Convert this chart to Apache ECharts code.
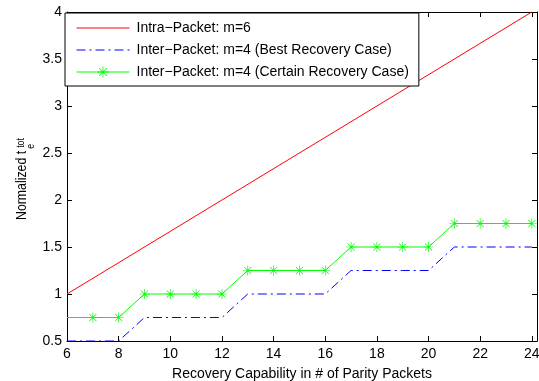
<!DOCTYPE html>
<html>
<head>
<meta charset="utf-8">
<script src="https://cdn.jsdelivr.net/npm/echarts@6/dist/echarts.min.js"></script>
<style>
  html, body { margin: 0; padding: 0; background: #fff; }
  #chart { width: 539px; height: 381px; }
</style>
</head>
<body>
<div id="chart"></div>
<script>
// recovery capability (# parity packets) on x
const xIntra = [6, 24];
const intraVals = [1, 4];

const xInter = [6, 7, 8, 9, 10, 11, 12, 13, 14, 15, 16, 17, 18, 19, 20, 21, 22, 23, 24];
const bestVals = [0.5, 0.5, 0.5, 0.75, 0.75, 0.75, 0.75, 1, 1, 1, 1, 1.25, 1.25, 1.25, 1.25, 1.5, 1.5, 1.5, 1.5];
const certainVals = [0.75, 0.75, 0.75, 1, 1, 1, 1, 1.25, 1.25, 1.25, 1.25, 1.5, 1.5, 1.5, 1.5, 1.75, 1.75, 1.75, 1.75];

const seriesNames = [
  'Intra\u2212Packet: m=6',
  'Inter\u2212Packet: m=4 (Best Recovery Case)',
  'Inter\u2212Packet: m=4 (Certain Recovery Case)'
];

const FONT = 'Liberation Sans, Arial, sans-serif';

// matlab style '*' marker
const star = 'path://M0 9.3L20 9.3L20 10.7L0 10.7Z' +
  'M9.3 0L10.7 0L10.7 20L9.3 20Z' +
  'M3.43 2.44L17.56 16.57L16.57 17.56L2.44 3.43Z' +
  'M17.56 3.43L3.43 17.56L2.44 16.57L16.57 2.44Z';

const chart = echarts.init(document.getElementById('chart'));

const xBase = {
  type: 'value', min: 6, max: 24.2, interval: 2,
  splitLine: { show: false },
  axisLine: { lineStyle: { color: '#000', width: 1 } },
  axisTick: { inside: true, length: 5, lineStyle: { color: '#000' } }
};
const yBase = {
  type: 'value', min: 0.5, max: 4, interval: 0.5,
  splitLine: { show: false },
  axisLine: { lineStyle: { color: '#000', width: 1 } },
  axisTick: { inside: true, length: 5, lineStyle: { color: '#000' } }
};

const option = {
  animation: false,
  backgroundColor: '#fff',
  textStyle: { fontFamily: FONT },
  grid: { left: 67, right: 2, top: 12, bottom: 40, show: false, outerBoundsMode: 'none' },
  legend: {
    left: 65, top: 13, orient: 'vertical',
    itemWidth: 53, itemHeight: 14, itemGap: 8,
    padding: [8, 10, 7, 11],
    backgroundColor: '#fff', borderColor: '#000', borderWidth: 1,
    lineStyle: { width: 1 },
    textStyle: { fontFamily: FONT, fontSize: 14, color: '#000', padding: [0, 0, 0, 2] },
    data: [
      { name: seriesNames[0], itemStyle: { opacity: 0 } },
      { name: seriesNames[1], itemStyle: { opacity: 0 } },
      { name: seriesNames[2] }
    ]
  },
  xAxis: [
    Object.assign({}, xBase, {
      position: 'bottom',
      name: 'Recovery Capability in # of Parity Packets',
      nameLocation: 'middle', nameGap: 26,
      nameTextStyle: { fontFamily: FONT, fontSize: 14, color: '#000' },
      axisLabel: {
        fontFamily: FONT, fontSize: 14, color: '#000', margin: 6,
        formatter: v => (Math.abs(v - Math.round(v)) < 1e-9 ? String(v) : '')
      }
    }),
    Object.assign({}, xBase, { position: 'top', axisLabel: { show: false } })
  ],
  yAxis: [
    Object.assign({}, yBase, {
      position: 'left',
      axisLabel: { fontFamily: FONT, fontSize: 14, color: '#000', margin: 5 }
    }),
    Object.assign({}, yBase, { position: 'right', axisLabel: { show: false } })
  ],
  graphic: [{
    type: 'group',
    x: 22, y: 220, rotation: Math.PI / 2, scaleX: 0.88,
    children: [
      { type: 'text', x: 0, y: 0,
        style: { text: 'Normalized t', fontFamily: FONT, fontSize: 14, fill: '#000', verticalAlign: 'middle' } },
      { type: 'text', x: 82, y: -1,
        style: { text: 'tot', fontFamily: FONT, fontSize: 10, fill: '#000', verticalAlign: 'middle' } },
      { type: 'text', x: 81, y: 9,
        style: { text: 'e', fontFamily: FONT, fontSize: 10, fill: '#000', verticalAlign: 'middle' } }
    ]
  }],
  series: [
    {
      name: seriesNames[0], type: 'line', symbol: 'none',
      lineStyle: { color: '#ff0000', width: 1 }, itemStyle: { color: '#ff0000' },
      data: xIntra.map((x, i) => [x, intraVals[i]])
    },
    {
      name: seriesNames[1], type: 'line', symbol: 'none',
      lineStyle: { color: '#0000ff', width: 1, type: [9, 4, 2, 4] }, itemStyle: { color: '#0000ff' },
      data: xInter.map((x, i) => [x, bestVals[i]])
    },
    {
      name: seriesNames[2], type: 'line', symbol: star, symbolSize: 10, showAllSymbol: true,
      lineStyle: { color: '#00ff00', width: 1 }, itemStyle: { color: '#00ff00' },
      data: xInter.map((x, i) => i === 0
        ? { value: [x, certainVals[i]], symbol: 'none' }
        : [x, certainVals[i]])
    }
  ]
};

chart.setOption(option);
</script>
</body>
</html>
